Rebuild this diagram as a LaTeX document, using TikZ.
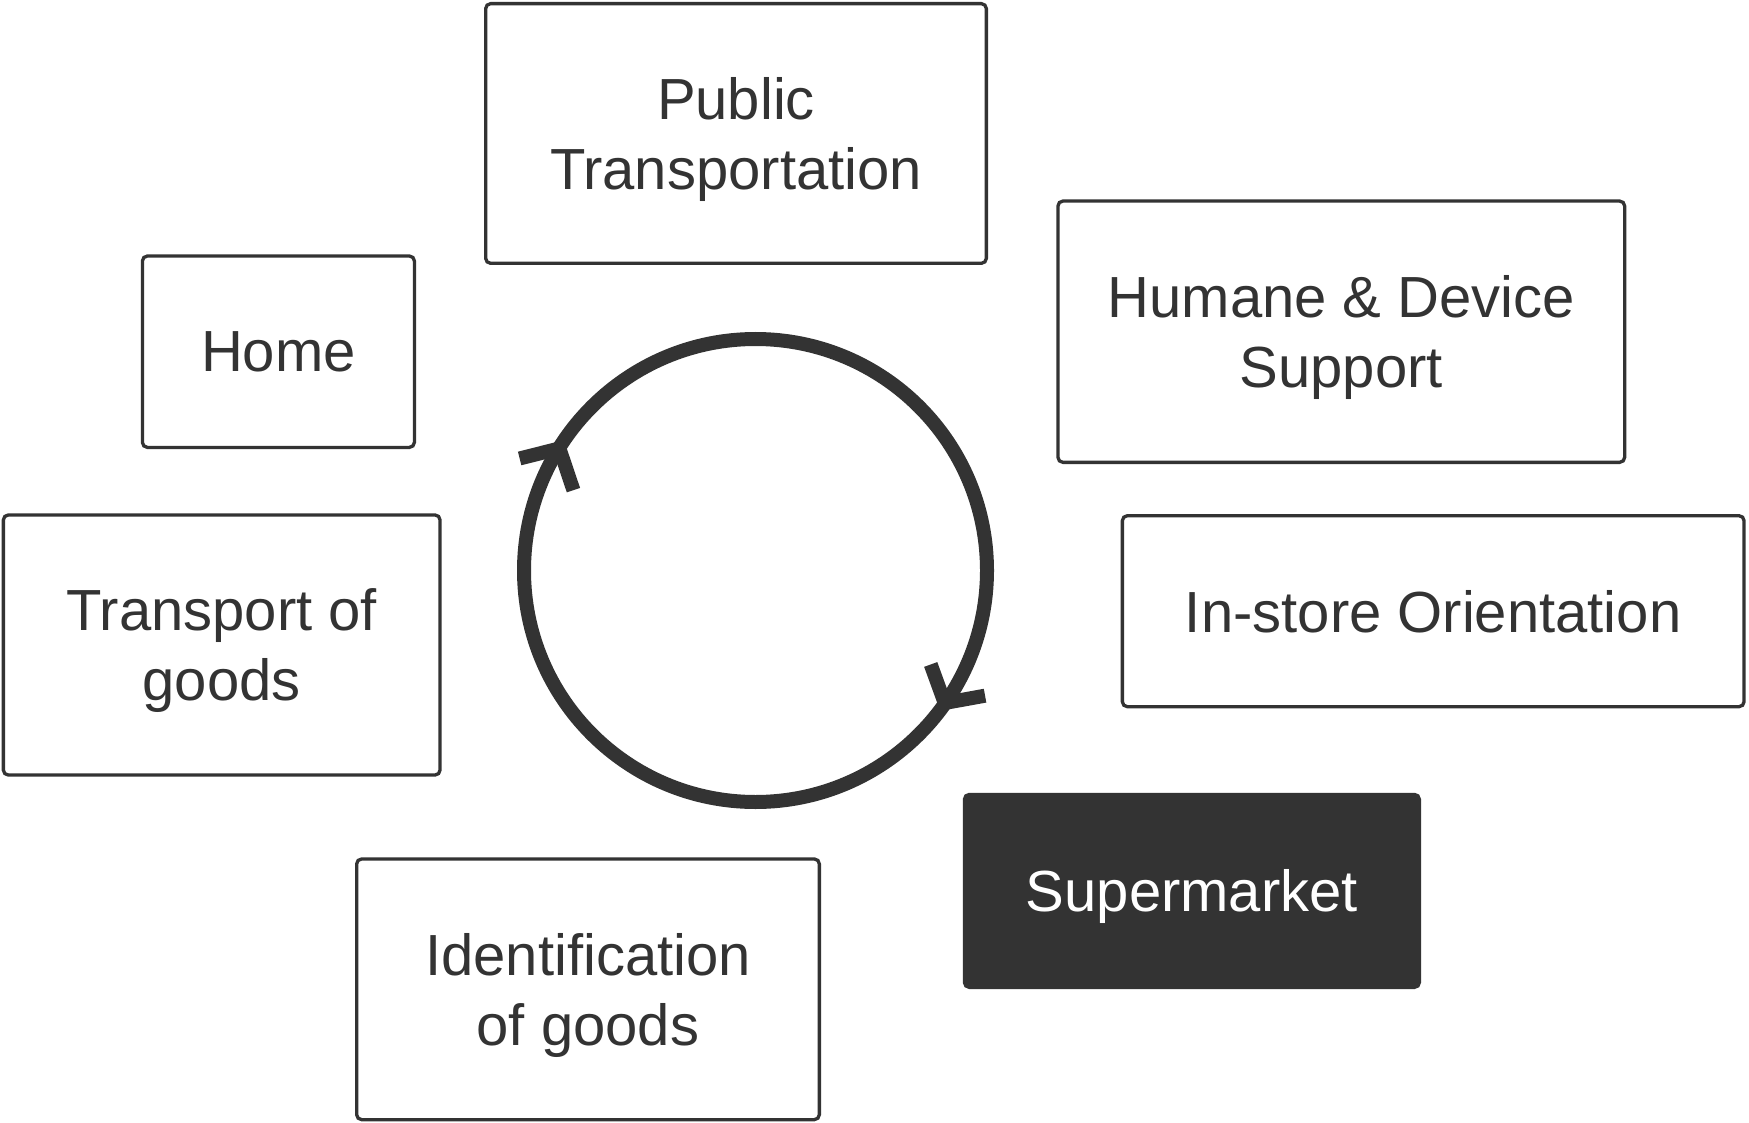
\documentclass[tikz,border=0pt]{standalone}
\usepackage{fontspec}
\setmainfont{Liberation Sans}
\usetikzlibrary{calc}
\definecolor{ink}{HTML}{333333}
\tikzset{
  box/.style={draw=ink, line width=3.3pt, rounded corners=5pt, inner sep=0pt,
    align=center, text=ink, text depth=-6pt, font=\fontsize{58}{70}\selectfont},
  darkbox/.style={box, fill=ink, text=white},
  loopline/.style={draw=ink, line width=14pt},
  barb/.style={draw=ink, line width=14pt, line cap=butt, line join=miter},
}
\begin{document}
\begin{tikzpicture}[x=1pt, y=-1pt]
  \useasboundingbox[fill=white] (0,0) rectangle (1749,1123);

  \node[box, minimum width=500.7pt, minimum height=259.7pt] (pt) at (736,133.5) {Public\\Transportation};
  \node[box, minimum width=272pt, minimum height=191.4pt] (home) at (278.4,351.7) {Home};
  \node[box, minimum width=566.7pt, minimum height=261.3pt] (hds) at (1341.3,331.7) {Humane \& Device\\Support};
  \node[box, minimum width=436.7pt, minimum height=260.1pt] (tog) at (221.7,645) {Transport of\\goods};
  \node[box, minimum width=621.7pt, minimum height=191pt] (iso) at (1433.2,611.2) {In-store Orientation};
  \node[darkbox, minimum width=455pt, minimum height=193pt] (sup) at (1191.9,890.9) {Supermarket};
  \node[box, minimum width=462.7pt, minimum height=260.7pt] (iog) at (588,989.3) {Identification\\of goods};

  \coordinate (c) at (755.5,570.5);
  \draw[loopline] (c) circle[radius=231.5];

  \coordinate (t1) at ($(c)+(211.9:231)$);
  \coordinate (t2) at ($(c)+(35:231)$);
  \draw[barb] ($(t1)+(165.8:41)$) -- (t1) -- ($(t1)+(71.4:44)$);
  \draw[barb] ($(t2)+(-10.3:41)$) -- (t2) -- ($(t2)+(-110:41)$);
\end{tikzpicture}
\end{document}
